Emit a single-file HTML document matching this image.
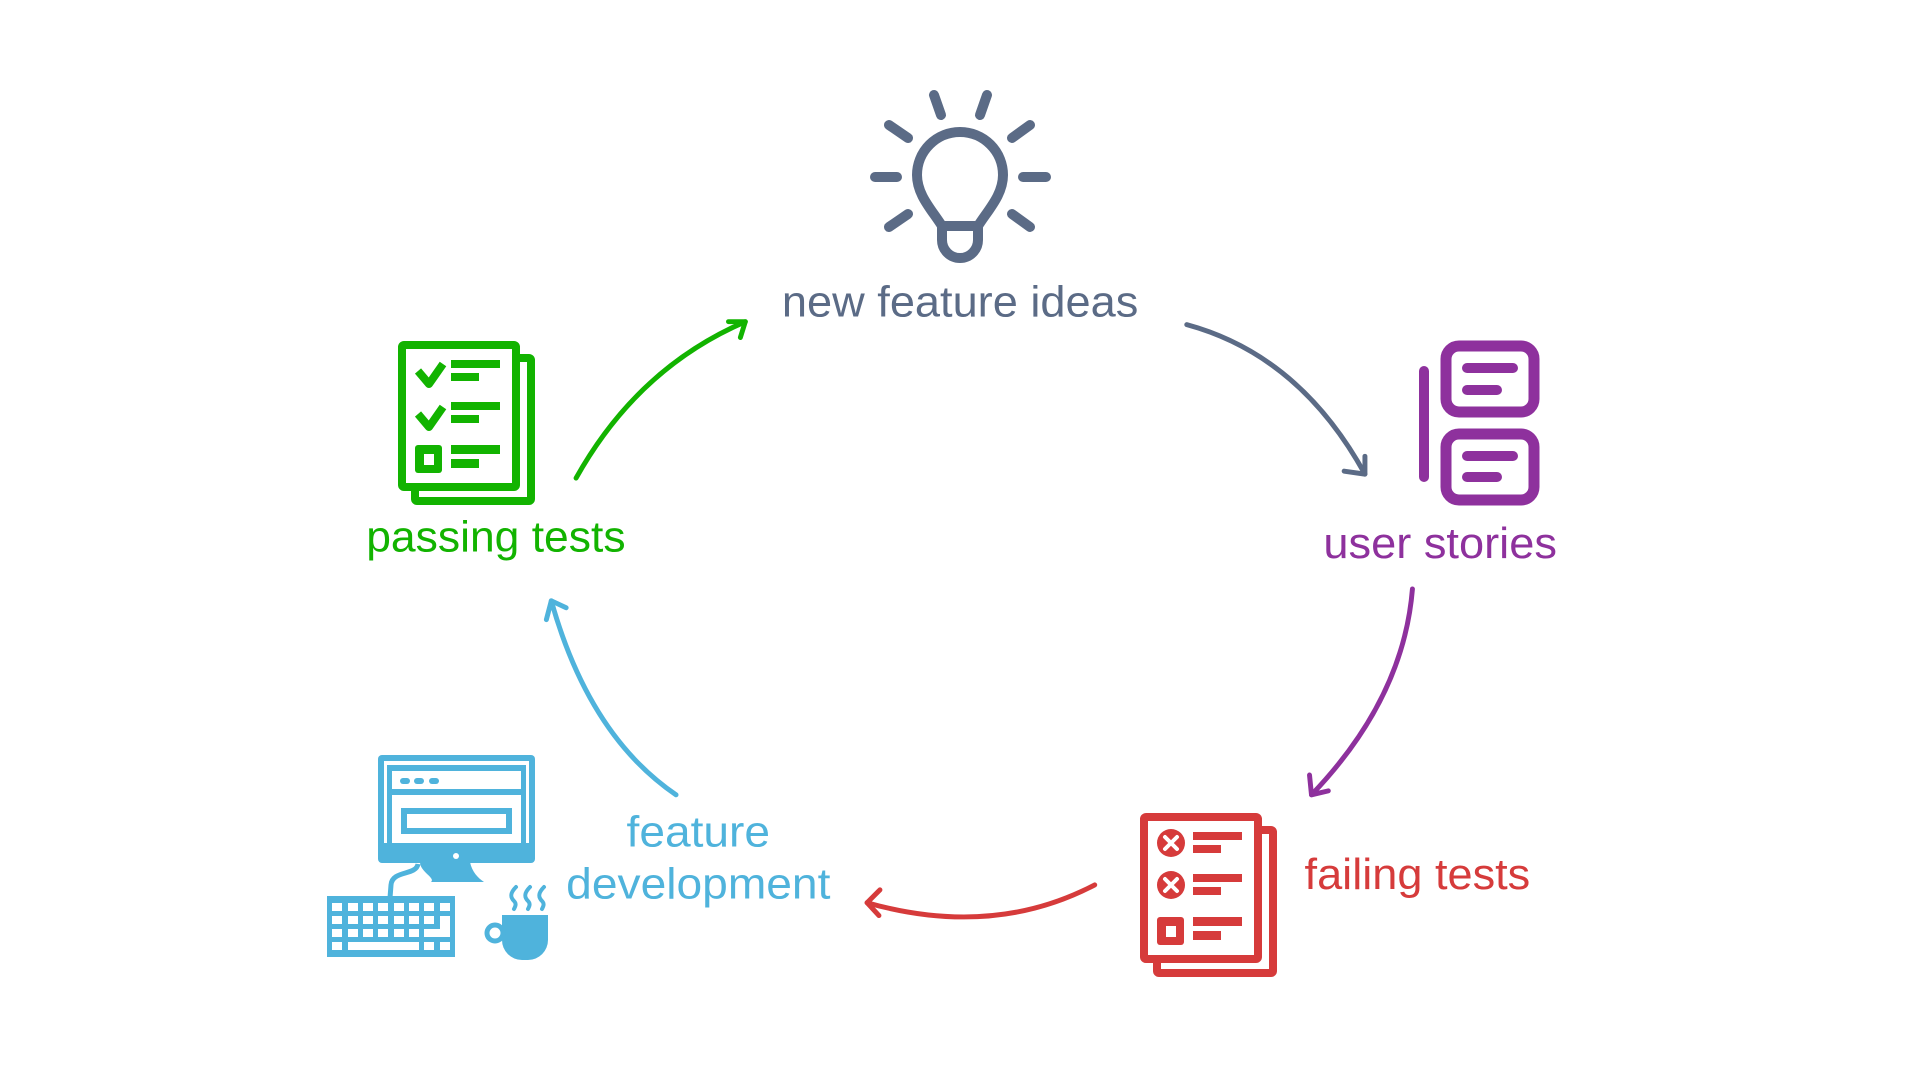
<!DOCTYPE html>
<html><head><meta charset="utf-8"><style>
html,body{margin:0;padding:0;background:#fff;width:1920px;height:1080px;overflow:hidden}
svg{display:block}
text{font-family:"Liberation Sans",sans-serif;font-size:44px}
</style></head><body>
<svg width="1920" height="1080" viewBox="0 0 1920 1080" xmlns="http://www.w3.org/2000/svg">
<rect width="1920" height="1080" fill="#fff"/>
<!-- bulb -->
<g stroke="#5b6b86" stroke-width="10" stroke-linecap="round" fill="none">
<line x1="934" y1="95" x2="941" y2="115"/><line x1="987" y1="95" x2="980" y2="115"/>
<line x1="889" y1="125" x2="908" y2="138"/><line x1="1030" y1="125" x2="1012" y2="138"/>
<line x1="875" y1="177" x2="897" y2="177"/><line x1="1023" y1="177" x2="1046" y2="177"/>
<line x1="889" y1="227" x2="908" y2="214"/><line x1="1030" y1="227" x2="1012" y2="214"/>
<path d="M942,226 C932,210 917,195 917,175 A43,43 0 0 1 1003,175 C1003,195 988,210 978,226 Z" stroke-linejoin="round"/>
<path d="M942,227 L942,240 A18,18 0 0 0 978,240 L978,227" stroke-linejoin="round"/>
</g>

<!-- passing tests -->
<g transform="translate(-742,-472)" fill="#12b300">
<rect x="1157" y="830" width="116" height="143" rx="2" fill="#fff" stroke="#12b300" stroke-width="8"/>
<rect x="1144" y="817" width="114" height="142" rx="2" fill="#fff" stroke="#12b300" stroke-width="8"/>
<path d="M1160,843 L1171,856 L1185,836" fill="none" stroke="#12b300" stroke-width="8" stroke-linejoin="round"/>
<path d="M1160,886 L1171,899 L1185,879" fill="none" stroke="#12b300" stroke-width="8" stroke-linejoin="round"/>
<rect x="1193" y="832" width="49" height="8"/><rect x="1193" y="845" width="28" height="8"/>
<rect x="1193" y="874" width="49" height="8"/><rect x="1193" y="887" width="28" height="8"/>
<rect x="1157" y="917" width="27" height="28" rx="3"/><rect x="1166" y="926" width="10" height="11" fill="#fff"/>
<rect x="1193" y="917" width="49" height="9"/><rect x="1193" y="931" width="28" height="9"/>
</g>

<!-- user stories -->
<g stroke="#8e319d" fill="none" stroke-linecap="round">
<line x1="1424" y1="371" x2="1424" y2="477" stroke-width="10"/>
<rect x="1446" y="346" width="88" height="66" rx="13" stroke-width="11"/>
<rect x="1446" y="434" width="88" height="66" rx="13" stroke-width="11"/>
<g stroke-width="10"><line x1="1467" y1="368" x2="1513" y2="368"/><line x1="1467" y1="390" x2="1497" y2="390"/>
<line x1="1467" y1="456" x2="1513" y2="456"/><line x1="1467" y1="477" x2="1497" y2="477"/></g>
</g>

<!-- failing tests -->
<g fill="#d63b3b">
<rect x="1157" y="830" width="116" height="143" rx="2" fill="#fff" stroke="#d63b3b" stroke-width="8"/>
<rect x="1144" y="817" width="114" height="142" rx="2" fill="#fff" stroke="#d63b3b" stroke-width="8"/>
<circle cx="1171" cy="843" r="14"/><circle cx="1171" cy="885" r="14"/>
<g stroke="#fff" stroke-width="4" stroke-linecap="round"><path d="M1165,837 L1177,849 M1177,837 L1165,849"/><path d="M1165,879 L1177,891 M1177,879 L1165,891"/></g>
<rect x="1193" y="832" width="49" height="8"/><rect x="1193" y="845" width="28" height="8"/>
<rect x="1193" y="874" width="49" height="8"/><rect x="1193" y="887" width="28" height="8"/>
<rect x="1157" y="917" width="27" height="28" rx="3"/><rect x="1166" y="926" width="10" height="11" fill="#fff"/>
<rect x="1193" y="917" width="49" height="9"/><rect x="1193" y="931" width="28" height="9"/>
</g>

<!-- computer -->
<g fill="#4fb3dc">
<rect x="378" y="755" width="157" height="108" rx="4"/>
<rect x="384" y="761" width="145" height="82" fill="#fff"/>
<rect x="387" y="765" width="139" height="78"/>
<rect x="392" y="771" width="129" height="18" fill="#fff"/>
<rect x="392" y="795" width="129" height="48" fill="#fff"/>
<rect x="400" y="778" width="10" height="6" rx="3"/><rect x="414" y="778" width="10" height="6" rx="3"/><rect x="429" y="778" width="10" height="6" rx="3"/>
<rect x="401" y="808" width="111" height="26"/><rect x="407" y="814" width="99" height="14" fill="#fff"/>
<circle cx="456" cy="856" r="3" fill="#fff"/>
<path d="M420,862 L470,862 C472,872 478,878 484,882 L431,882 C436,878 420,872 420,862 Z"/>
<path d="M418,864 C416,876 392,870 391,885 L390,898" fill="none" stroke="#4fb3dc" stroke-width="5"/>
<rect x="327" y="896" width="128" height="61"/>
<g fill="#fff">
<rect x="332" y="903" width="10" height="8"/><rect x="348" y="903" width="10" height="8"/><rect x="363" y="903" width="10" height="8"/><rect x="378" y="903" width="10" height="8"/><rect x="394" y="903" width="10" height="8"/><rect x="409" y="903" width="10" height="8"/><rect x="424" y="903" width="10" height="8"/><rect x="440" y="903" width="10" height="8"/>
<rect x="332" y="916" width="10" height="8"/><rect x="348" y="916" width="10" height="8"/><rect x="363" y="916" width="10" height="8"/><rect x="378" y="916" width="10" height="8"/><rect x="394" y="916" width="10" height="8"/><rect x="409" y="916" width="10" height="8"/><rect x="424" y="916" width="10" height="8"/><rect x="440" y="916" width="10" height="21"/>
<rect x="332" y="929" width="10" height="8"/><rect x="348" y="929" width="10" height="8"/><rect x="363" y="929" width="10" height="8"/><rect x="378" y="929" width="10" height="8"/><rect x="394" y="929" width="10" height="8"/><rect x="409" y="929" width="10" height="8"/><rect x="424" y="929" width="20" height="8"/>
<rect x="332" y="942" width="10" height="8"/><rect x="348" y="942" width="71" height="8"/><rect x="424" y="942" width="10" height="8"/><rect x="440" y="942" width="10" height="8"/>
</g>
<path d="M502,915 L548,915 L548,940 A20,20 0 0 1 528,960 L522,960 A20,20 0 0 1 502,940 Z"/>
<circle cx="495" cy="933" r="8" fill="none" stroke="#4fb3dc" stroke-width="5"/>
<g fill="none" stroke="#4fb3dc" stroke-width="4" stroke-linecap="round">
<path d="M516,887 C510,893 510,897 514,901 C517,904 515,907 514,909"/>
<path d="M530,887 C524,893 524,897 528,901 C531,904 529,907 528,909"/>
<path d="M544,887 C538,893 538,897 542,901 C545,904 543,907 542,909"/>
</g>
</g>

<g transform="scale(0.9898)">
<text x="790" y="320" fill="#5b6b86" textLength="360" lengthAdjust="spacingAndGlyphs">new feature ideas</text>
<text x="370" y="557" fill="#12b300" textLength="262" lengthAdjust="spacingAndGlyphs">passing tests</text>
<text x="1337" y="564" fill="#8e319d" textLength="236" lengthAdjust="spacingAndGlyphs">user stories</text>
<text x="1318" y="898" fill="#d63b3b" textLength="228" lengthAdjust="spacingAndGlyphs">failing tests</text>
<text x="633" y="855" fill="#4fb3dc" textLength="145" lengthAdjust="spacingAndGlyphs">feature</text>
<text x="572" y="908" fill="#4fb3dc" textLength="267" lengthAdjust="spacingAndGlyphs">development</text>
<g fill="none" stroke-width="5" stroke-linecap="round" stroke-linejoin="round">
<g stroke="#12b300"><path d="M582,483 Q644,372 753,325"/><path d="M736,325 L753,325 L748,341"/></g>
<g stroke="#5b6b86"><path d="M1199,328 Q1313,359 1379,479"/><path d="M1358,476 L1379,479 L1379,461"/></g>
<g stroke="#8e319d"><path d="M1427,595 Q1418,706 1325,803"/><path d="M1323,783 L1325,803 L1342,799"/></g>
<g stroke="#d63b3b"><path d="M1106,894 Q1003,948 876,912"/><path d="M889,899 L876,912 L888,925"/></g>
<g stroke="#4fb3dc"><path d="M683,803 Q595,743 557,607"/><path d="M552,626 L557,607 L572,614"/></g>
</g>
</g>
</svg>
</body></html>
